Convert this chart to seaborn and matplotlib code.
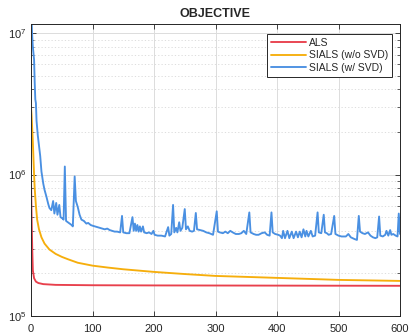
import numpy as np
import pandas as pd
import seaborn as sns
import matplotlib
matplotlib.use("Agg")
import matplotlib.pyplot as plt
from matplotlib.ticker import LogLocator, NullFormatter

# ---- data ----
als_x = [0, 1, 2, 3, 5, 8, 12, 20, 40, 100, 200, 400, 600]
als_y = [9.2e5, 5.0e5, 3.0e5, 2.1e5, 1.85e5, 1.75e5, 1.71e5, 1.68e5, 1.66e5,
         1.65e5, 1.645e5, 1.64e5, 1.635e5]

nosvd_x = [0, 1, 2, 3, 4, 5, 6, 8, 10, 13, 17, 22, 30, 40, 50, 60, 76, 100, 125,
           150, 200, 250, 300, 350, 400, 450, 500, 550, 600]
nosvd_y = [3.0e6, 2.6e6, 2.1e6, 1.7e6, 1.3e6, 1.0e6, 8.0e5, 6.0e5, 4.8e5, 4.1e5,
           3.6e5, 3.25e5, 2.95e5, 2.75e5, 2.62e5, 2.52e5, 2.38e5, 2.27e5, 2.2e5,
           2.14e5, 2.05e5, 1.98e5, 1.92e5, 1.89e5, 1.86e5, 1.83e5, 1.8e5, 1.785e5,
           1.77e5]

svd_x = [0, 1, 2, 3, 5, 6, 7, 8, 9, 11, 13, 15, 17, 20, 22, 25, 28, 30, 33, 36,
         38, 41, 43, 46, 48, 51, 53, 55, 57, 60, 63, 66, 68, 71, 73, 76, 79, 82,
         86, 90, 93, 97, 100, 104, 108, 112, 116, 120, 124, 128, 132, 136, 140,
         145, 148, 150, 155, 160, 165, 167, 169, 171, 173, 175, 177, 179, 182,
         184, 188, 192, 196, 199, 201, 206, 212, 218, 223, 225, 228, 231, 233,
         236, 238, 241, 243, 246, 250, 252, 255, 258, 262, 265, 268, 270, 275,
         280, 285, 290, 296, 302, 304, 307, 312, 316, 320, 324, 328, 333, 338,
         342, 346, 350, 355, 357, 362, 366, 370, 375, 380, 384, 388, 391, 393,
         397, 402, 405, 408, 410, 413, 417, 420, 424, 427, 431, 434, 437, 440,
         443, 446, 448, 451, 455, 458, 462, 466, 468, 472, 476, 478, 481, 484,
         488, 493, 495, 500, 505, 508, 512, 516, 520, 526, 530, 533, 535, 539,
         543, 548, 552, 556, 560, 563, 566, 568, 572, 576, 578, 581, 584, 586,
         589, 593, 596, 598, 600]
svd_y = [1.6e7, 1.2e7, 9.5e6, 8.0e6, 6.5e6, 4.5e6, 3.4e6, 3.2e6, 2.4e6, 1.9e6,
         1.6e6, 1.35e6, 1.05e6, 8.6e5, 7.8e5, 7.0e5, 6.2e5, 5.8e5, 5.6e5, 6.5e5,
         5.3e5, 6.3e5, 5.2e5, 6.1e5, 5.0e5, 4.9e5, 4.8e5, 1.14e6, 4.7e5, 4.6e5,
         4.5e5, 4.4e5, 4.3e5, 9.7e5, 6.5e5, 5.9e5, 5.2e5, 4.8e5, 4.7e5, 4.5e5,
         4.55e5, 4.4e5, 4.35e5, 4.3e5, 4.25e5, 4.2e5, 4.15e5, 4.1e5, 4.15e5,
         4.05e5, 4.0e5, 3.95e5, 3.95e5, 3.9e5, 5.1e5, 3.9e5, 3.85e5, 3.85e5,
         5.0e5, 4.0e5, 4.5e5, 4.0e5, 4.4e5, 3.95e5, 4.3e5, 3.95e5, 4.3e5, 3.9e5,
         3.85e5, 3.9e5, 3.8e5, 4.0e5, 3.75e5, 3.7e5, 3.7e5, 3.65e5, 4.25e5,
         3.7e5, 3.8e5, 6.1e5, 3.9e5, 4.2e5, 3.9e5, 4.6e5, 4.0e5, 4.2e5, 5.7e5,
         4.1e5, 4.3e5, 4.0e5, 3.95e5, 4.0e5, 5.35e5, 4.1e5, 4.05e5, 4.0e5,
         3.9e5, 3.85e5, 3.75e5, 5.5e5, 3.95e5, 3.9e5, 3.85e5, 3.95e5, 3.85e5,
         4.0e5, 3.9e5, 3.8e5, 3.8e5, 3.85e5, 4.0e5, 3.8e5, 5.4e5, 3.9e5, 3.8e5,
         3.75e5, 3.75e5, 3.85e5, 3.9e5, 3.75e5, 3.7e5, 5.4e5, 3.9e5, 3.8e5,
         3.75e5, 3.7e5, 3.55e5, 4.0e5, 3.55e5, 4.0e5, 3.55e5, 3.95e5, 3.55e5,
         3.95e5, 3.6e5, 3.95e5, 3.6e5, 4.1e5, 3.65e5, 4.0e5, 3.65e5, 4.0e5,
         3.65e5, 3.7e5, 5.4e5, 3.9e5, 3.85e5, 5.2e5, 3.9e5, 3.85e5, 3.75e5,
         3.8e5, 5.1e5, 3.8e5, 3.7e5, 3.65e5, 3.65e5, 3.65e5, 3.8e5, 3.6e5,
         3.5e5, 3.45e5, 5.1e5, 3.95e5, 3.85e5, 3.8e5, 3.9e5, 3.7e5, 3.6e5,
         3.55e5, 3.6e5, 5.05e5, 3.7e5, 3.65e5, 3.75e5, 4.0e5, 3.7e5, 4.05e5,
         3.75e5, 3.8e5, 3.7e5, 3.65e5, 5.3e5, 3.8e5]

labels = ["ALS", "SIALS (w/o SVD)", "SIALS (w/ SVD)"]
colors = ["#e8404c", "#f6ae0c", "#4a90e2"]

df = pd.concat([
    pd.DataFrame({"iter": als_x, "obj": als_y, "method": labels[0]}),
    pd.DataFrame({"iter": nosvd_x, "obj": nosvd_y, "method": labels[1]}),
    pd.DataFrame({"iter": svd_x, "obj": svd_y, "method": labels[2]}),
], ignore_index=True)

# ---- style ----
sns.set_style("ticks")
plt.rcParams["font.family"] = ["Liberation Sans", "DejaVu Sans"]

fig = plt.figure(figsize=(4.10, 3.34), dpi=100)
ax = fig.add_axes([31 / 410, 18 / 334, 369 / 410, 292 / 334])

sns.lineplot(data=df, x="iter", y="obj", hue="method", hue_order=labels,
             palette=dict(zip(labels, colors)), estimator=None, sort=False,
             linewidth=1.35, ax=ax)

ax.set_yscale("log")
ax.set_xlim(0, 600)
ax.set_ylim(1e5, 1.16e7)
ax.set_xticks([0, 100, 200, 300, 400, 500, 600])
ax.yaxis.set_major_locator(LogLocator(base=10, numticks=10))
ax.yaxis.set_minor_locator(LogLocator(base=10, subs=np.arange(2, 10), numticks=50))
ax.yaxis.set_minor_formatter(NullFormatter())
ax.set_xlabel("")
ax.set_ylabel("")

ax.grid(True, which="major", color="#dcdcdc", linewidth=0.7, linestyle="-")
ax.grid(True, which="minor", axis="y", color="#d8d8d8", linewidth=0.6,
        linestyle=(0, (1.5, 2.5)))
ax.set_axisbelow(True)

for sp in ax.spines.values():
    sp.set_visible(True)
    sp.set_color("#262626")
    sp.set_linewidth(0.7)

ax.tick_params(which="both", direction="in", top=True, right=True,
               colors="#262626", labelsize=8, labelcolor="#262626")
ax.tick_params(which="major", length=3.5, width=0.6, pad=3)
ax.tick_params(axis="x", which="major", pad=6)
ax.tick_params(which="minor", length=2, width=0.5)

ax.set_title("OBJECTIVE", fontsize=9, fontweight="bold", pad=5)

leg = ax.legend(loc="upper right",
                frameon=True, fancybox=False, framealpha=1, edgecolor="#262626",
                fontsize=7.5, handlelength=3.4, handletextpad=0.3,
                borderpad=0.35, labelspacing=0.25, borderaxespad=0)
leg.get_frame().set_linewidth(0.7)
leg.set_bbox_to_anchor((392 / 410, (334 - 34) / 334), transform=fig.transFigure)

fig.savefig("out.png", dpi=100)
